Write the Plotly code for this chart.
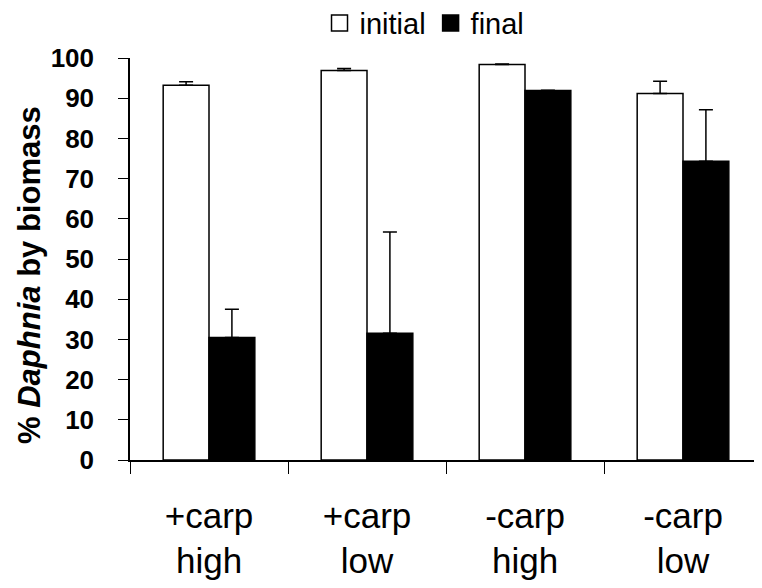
import plotly.graph_objects as go

categories = ["+carp<br>high", "+carp<br>low", "-carp<br>high", "-carp<br>low"]
initial = [93.2, 96.9, 98.4, 91.2]
initial_err = [0.9, 0.5, 0.1, 3.0]
final = [30.5, 31.5, 91.9, 74.3]
final_err = [7.0, 25.2, 0.1, 12.8]
y_ticks = list(range(0, 101, 10))

FONT = "Liberation Sans, Arial, sans-serif"

fig = go.Figure()
fig.add_trace(go.Bar(
    x=categories, y=initial, name="initial", showlegend=False,
    marker=dict(color="white", line=dict(color="black", width=1.5)),
    error_y=dict(type="data", symmetric=False, array=initial_err,
                 arrayminus=[0] * len(initial_err), color="black",
                 thickness=1.5, width=7),
))
fig.add_trace(go.Bar(
    x=categories, y=final, name="final", showlegend=False,
    marker=dict(color="black", line=dict(color="black", width=1.5)),
    error_y=dict(type="data", symmetric=False, array=final_err,
                 arrayminus=[0] * len(final_err), color="black",
                 thickness=1.5, width=7),
))
# legend entries (square symbols)
fig.add_trace(go.Scatter(
    x=[None], y=[None], mode="markers", name="initial",
    marker=dict(symbol="square", size=18, color="white", line=dict(color="black", width=1.5)),
))
fig.add_trace(go.Scatter(
    x=[None], y=[None], mode="markers", name="final",
    marker=dict(symbol="square", size=18, color="black", line=dict(color="black", width=1.5)),
))

fig.update_layout(
    width=754, height=580,
    margin=dict(l=122, r=0, t=50, b=128, autoexpand=False),
    paper_bgcolor="white", plot_bgcolor="white",
    barmode="group", bargap=0.42, bargroupgap=0,
    font=dict(family=FONT, color="black"),
    showlegend=True,
    legend=dict(orientation="h", x=0.466, xanchor="center", y=1.087, yanchor="middle",
                font=dict(size=29), itemwidth=30, tracegroupgap=0,
                bgcolor="rgba(0,0,0,0)"),
    xaxis=dict(showline=True, linecolor="black", linewidth=1.5,
               ticks="outside", ticklen=12, tickcolor="black", tickwidth=1,
               tickson="boundaries", tickfont=dict(size=35),
               ticklabelstandoff=24, automargin=False,
               showgrid=False, zeroline=False),
    yaxis=dict(range=[0, 100], tickvals=y_ticks, showline=True, linecolor="black",
               linewidth=1.5, ticks="outside", ticklen=10, tickcolor="black",
               tickwidth=1, tickfont=dict(size=26, family=FONT, weight="bold"),
               ticklabelstandoff=19, automargin=False,
               showgrid=False, zeroline=False),
    annotations=[dict(
        text="<b>% <i>Daphnia</i> by biomass</b>",
        xref="paper", yref="paper", x=-0.16, y=0.46,
        xanchor="center", yanchor="middle", textangle=-90,
        showarrow=False, font=dict(size=31, family=FONT),
    )],
)

fig.write_html("out.html")
